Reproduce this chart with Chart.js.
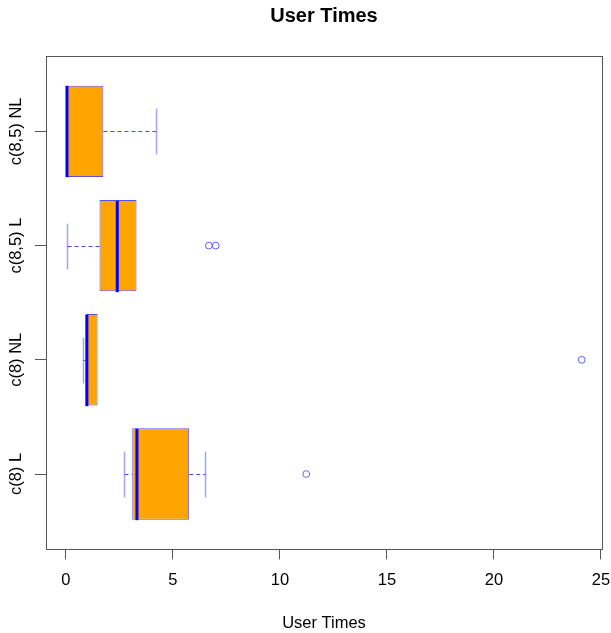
<!DOCTYPE html>
<html>
<head>
<meta charset="utf-8">
<script src="https://cdn.jsdelivr.net/npm/chart.js@4.4.0/dist/chart.umd.min.js"></script>
<style>
  html, body { margin: 0; padding: 0; background: #fff; }
  #wrap { width: 611px; height: 633px; position: relative; }
</style>
</head>
<body>
<div id="wrap"><canvas id="myChart"></canvas></div>
<script>
// boxplot stats, listed bottom to top like R does (group 1 at the bottom)
var groups = ['c(8) L', 'c(8) NL', 'c(8,5) L', 'c(8,5) NL'];
var positions = [1, 2, 3, 4];
var whiskerLow = [2.7, 0.81, 0.05, 0];
var lowerQuart = [3.1, 0.92, 1.57, 0];
var medians = [3.32, 0.98, 2.4, 0.05];
var upperQuart = [5.76, 1.48, 3.3, 1.75];
var whiskerHigh = [6.51, 1.48, 3.3, 4.2];
var outliers = [[11.23], [24.1], [6.68, 7.0], []];
var xTicks = [0, 5, 10, 15, 20, 25];

var FONT = "'Liberation Sans', Arial, sans-serif";
var FS = 16.5;

var boxes = positions.map(function(p, i){
    return {x: [lowerQuart[i], upperQuart[i]], y: p};
});
var outlierPoints = [];
outliers.forEach(function(list, i){
    list.forEach(function(v){ outlierPoints.push({x: v, y: positions[i]}); });
});

function seg(ctx, x1, y1, x2, y2){
    ctx.beginPath();
    ctx.moveTo(x1, y1);
    ctx.lineTo(x2, y2);
    ctx.stroke();
}

// whiskers, staples, medians, frame, title and group labels
var rPlot = {
    id: 'rPlot',
    afterDatasetsDraw: function(chart){
        var ctx = chart.ctx, xs = chart.scales.x, ys = chart.scales.y;
        var meta = chart.getDatasetMeta(0);
        ctx.save();
        positions.forEach(function(p, i){
            var yc = Math.round(ys.getPixelForValue(p)) + 0.5;
            var half = meta.data[i].height / 2;
            var staple = half / 2;
            var xLo = Math.round(xs.getPixelForValue(whiskerLow[i])) + 0.5;
            var xQ1 = xs.getPixelForValue(lowerQuart[i]);
            var xQ3 = xs.getPixelForValue(upperQuart[i]);
            var xHi = Math.round(xs.getPixelForValue(whiskerHigh[i])) + 0.5;
            var xMed = xs.getPixelForValue(medians[i]);

            ctx.lineWidth = 1;
            ctx.strokeStyle = 'rgba(40,40,255,0.85)';
            ctx.setLineDash([4, 3]);
            if (xQ1 - xLo > 1) seg(ctx, xLo, yc, xQ1, yc);
            if (xHi - xQ3 > 1) seg(ctx, xQ3, yc, xHi, yc);
            ctx.setLineDash([]);

            ctx.strokeStyle = 'rgba(70,70,255,0.5)';
            ctx.lineWidth = 1.5;
            if (whiskerLow[i] < lowerQuart[i]) seg(ctx, xLo, yc - staple, xLo, yc + staple);
            if (whiskerHigh[i] > upperQuart[i]) seg(ctx, xHi, yc - staple, xHi, yc + staple);

            ctx.strokeStyle = '#0000ff';
            ctx.lineWidth = 3;
            seg(ctx, xMed, yc - half, xMed, yc + half);
        });
        ctx.restore();
    },
    afterDraw: function(chart){
        var ctx = chart.ctx, a = chart.chartArea, ys = chart.scales.y;
        ctx.save();
        ctx.strokeStyle = '#555';
        ctx.lineWidth = 1;
        ctx.strokeRect(Math.round(a.left) + 0.5, Math.round(a.top) + 0.5,
                       Math.round(a.right - a.left), Math.round(a.bottom - a.top));

        ctx.fillStyle = '#000';
        ctx.textAlign = 'center';
        ctx.textBaseline = 'middle';
        ctx.font = 'bold 20px ' + FONT;
        ctx.fillText('User Times', (a.left + a.right) / 2, 16);

        ctx.font = FS + 'px ' + FONT;
        positions.forEach(function(p, i){
            ctx.save();
            ctx.translate(16, ys.getPixelForValue(p));
            ctx.rotate(-Math.PI / 2);
            ctx.fillText(groups[i], 0, 0);
            ctx.restore();
        });
        ctx.restore();
    }
};

var ctx = document.getElementById('myChart');
var myChart = new Chart(ctx, {
    type: 'bar',
    data: {
        datasets: [{
            type: 'bar',
            data: boxes,
            backgroundColor: '#FFA500',
            borderColor: '#5a50e0',
            borderWidth: 1,
            borderSkipped: false,
            barPercentage: 0.8,
            categoryPercentage: 1
        }, {
            type: 'scatter',
            data: outlierPoints,
            showLine: false,
            pointStyle: 'circle',
            pointRadius: 3.4,
            pointBorderWidth: 1,
            pointBorderColor: '#5e5eff',
            pointBackgroundColor: 'rgba(0,0,0,0)'
        }]
    },
    options: {
        indexAxis: 'y',
        responsive: true,
        maintainAspectRatio: false,
        animation: false,
        events: [],
        layout: {
            padding: {top: 56, left: 35, right: 9, bottom: 0}
        },
        plugins: {
            legend: {display: false},
            tooltip: {enabled: false},
            title: {display: false}
        },
        scales: {
            x: {
                type: 'linear',
                position: 'bottom',
                offset: false,
                min: -0.93,
                max: 25.05,
                afterBuildTicks: function(s){
                    s.ticks = xTicks.map(function(v){ return {value: v}; });
                },
                afterFit: function(s){
                    s.paddingLeft = 0;
                    s.paddingRight = 0;
                },
                grid: {offset: false, drawOnChartArea: false, drawTicks: true, tickLength: 10, color: '#555'},
                border: {display: false},
                ticks: {color: '#000', font: {family: FONT, size: FS}, padding: 11, maxRotation: 0},
                title: {
                    display: true,
                    text: 'User Times',
                    color: '#000',
                    font: {family: FONT, size: FS},
                    padding: {top: 12, bottom: 0}
                }
            },
            y: {
                type: 'linear',
                position: 'left',
                offset: false,
                min: 0.34,
                max: 4.66,
                afterBuildTicks: function(s){
                    s.ticks = positions.map(function(v){ return {value: v}; });
                },
                grid: {offset: false, drawOnChartArea: false, drawTicks: true, tickLength: 11, color: '#555'},
                border: {display: false},
                ticks: {display: false}
            }
        }
    },
    plugins: [rPlot]
});
</script>
</body>
</html>
